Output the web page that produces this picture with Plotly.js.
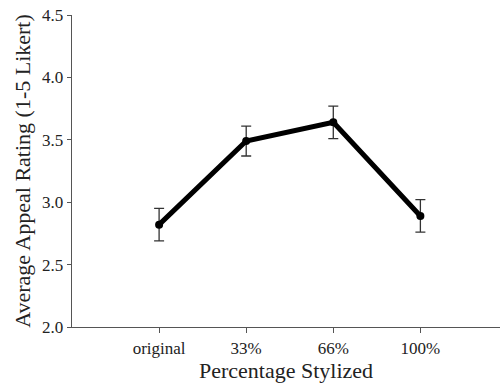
<!DOCTYPE html>
<html>
<head>
<meta charset="utf-8">
<script src="https://cdn.plot.ly/plotly-3.0.1.min.js"></script>
<style>html,body{margin:0;padding:0;background:#fff}</style>
</head>
<body>
<div id="chart" style="width:500px;height:384px"></div>
<script>
const categories = ["original", "33%", "66%", "100%"];
const appealMeans = [2.82, 3.49, 3.64, 2.89];
const appealErrors = [0.13, 0.12, 0.13, 0.13];
const yTickValues = [2.0, 2.5, 3.0, 3.5, 4.0, 4.5];
const yTickLabels = ["2.0", "2.5", "3.0", "3.5", "4.0", "4.5"];

const trace = {
  x: categories.map((c, i) => i),
  y: appealMeans,
  type: "scatter",
  mode: "lines+markers",
  line: {color: "#000", width: 5},
  marker: {color: "#000", size: 8},
  error_y: {type: "data", array: appealErrors, visible: true, color: "#333", thickness: 1.3, width: 5},
  hoverinfo: "skip"
};

const font = "'Liberation Serif', 'Times New Roman', serif";
const layout = {
  width: 500, height: 384,
  margin: {l: 72, r: 0, t: 15, b: 57},
  paper_bgcolor: "#fff", plot_bgcolor: "#fff",
  showlegend: false,
  font: {family: font, color: "#222", size: 17},
  xaxis: {
    range: [-1, 3.914],
    tickvals: categories.map((c, i) => i),
    ticktext: categories,
    showgrid: false, zeroline: false,
    showline: true, linecolor: "#555", linewidth: 1.3,
    ticks: "outside", ticklen: 5, tickcolor: "#555", tickwidth: 1,
    tickfont: {family: font, size: 17, color: "#222"},
    title: {text: "Percentage Stylized", font: {family: font, size: 22, color: "#222"}, standoff: 6}
  },
  yaxis: {
    range: [2.0, 4.5],
    tickvals: yTickValues,
    ticktext: yTickLabels,
    showgrid: false, zeroline: false,
    showline: true, linecolor: "#555", linewidth: 1.3,
    ticks: "outside", ticklen: 4, tickcolor: "#555", tickwidth: 1,
    tickfont: {family: font, size: 17, color: "#222"},
    title: {text: "Average Appeal Rating (1-5 Likert)", font: {family: font, size: 22, color: "#222"}, standoff: 5}
  }
};

Plotly.newPlot("chart", [trace], layout, {displayModeBar: false, staticPlot: true});
</script>
</body>
</html>
